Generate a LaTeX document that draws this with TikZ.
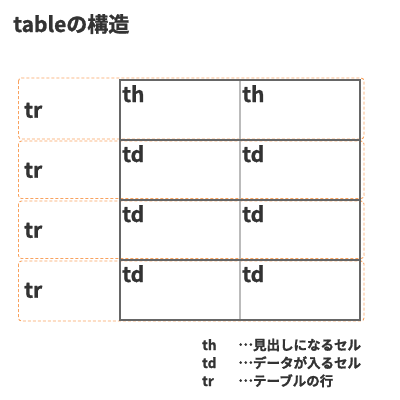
\documentclass[tikz,border=0pt]{standalone}
\usepackage{fontspec}
\setmainfont{Noto Sans CJK JP}
\newfontfamily\jpbold{Noto Sans CJK JP Bold}[FakeBold=1.2]
\usetikzlibrary{calc}

\definecolor{txtgray}{HTML}{333333}
\definecolor{linegray}{HTML}{666666}
\definecolor{sepgray}{HTML}{BBBBBB}
\definecolor{roworange}{HTML}{F9A25E}

\newcommand{\middots}{\raisebox{0.32em}{…}}

\begin{document}
\begin{tikzpicture}[x=1pt, y=-1pt,
	rowbox/.style={draw=roworange, line width=0.9pt, dash pattern=on 3pt off 2pt, rounded corners=3pt},
	celltext/.style={anchor=base west, inner sep=0pt, text=txtgray, font=\fontsize{21}{21}\selectfont\jpbold},
	legendtext/.style={anchor=base west, inner sep=0pt, text=txtgray, font=\fontsize{13.5}{14}\selectfont\jpbold}]
			\useasboundingbox (0,0) rectangle (400,400);

			\node[celltext] (title) at (13,32) {tableの構造};

			\coordinate (tab) at (120,80);
			\coordinate (tabend) at ($(tab)+(240,240)$);

			%rows (tr)
			\draw[rowbox] (18.5,78) rectangle (364,139);
			\draw[rowbox] (18.5,141) rectangle (364,198.5);
			\draw[rowbox] (18.5,201) rectangle (364,258.5);
			\draw[rowbox] (18.5,261) rectangle (364,321);

			%table grid
			\draw[sepgray, line width=1.4pt] ($(tab)+(120,0)$) -- ($(tab)+(120,240)$);
			\draw[linegray, line width=1.2pt] (tab) rectangle (tabend);
			\draw[linegray, line width=1.2pt] ($(tab)+(0,60)$) -- ($(tab)+(240,60)$);
			\draw[linegray, line width=1.2pt] ($(tab)+(0,120)$) -- ($(tab)+(240,120)$);
			\draw[linegray, line width=1.2pt] ($(tab)+(0,180)$) -- ($(tab)+(240,180)$);

			%baselines
			\coordinate (r1) at ($(tab)+(-96,37.7)$);
			\coordinate (c1) at ($(tab)+(2,22)$);
			\coordinate (lg) at (202,350);

			\node[celltext] (tr1) at (r1) {tr};
			\node[celltext] (tr2) at ($(r1)+(0,60)$) {tr};
			\node[celltext] (tr3) at ($(r1)+(0,120)$) {tr};
			\node[celltext] (tr4) at ($(r1)+(0,180)$) {tr};

			\node[celltext] (th1) at (c1) {th};
			\node[celltext] (th2) at ($(c1)+(120,0)$) {th};
			\node[celltext] (td21) at ($(c1)+(0,60)$) {td};
			\node[celltext] (td22) at ($(c1)+(120,60)$) {td};
			\node[celltext] (td31) at ($(c1)+(0,120)$) {td};
			\node[celltext] (td32) at ($(c1)+(120,120)$) {td};
			\node[celltext] (td41) at ($(c1)+(0,180)$) {td};
			\node[celltext] (td42) at ($(c1)+(120,180)$) {td};

			%legend
			\node[legendtext] (lgth) at (lg) {th};
			\node[legendtext] (lgthx) at ($(lg)+(36,0)$) {\middots 見出しになるセル};
			\node[legendtext] (lgtd) at ($(lg)+(0,18)$) {td};
			\node[legendtext] (lgtdx) at ($(lg)+(36,18)$) {\middots データが入るセル};
			\node[legendtext] (lgtr) at ($(lg)+(0,36)$) {tr};
			\node[legendtext] (lgtrx) at ($(lg)+(36,36)$) {\middots テーブルの行};
		\end{tikzpicture}
\end{document}
